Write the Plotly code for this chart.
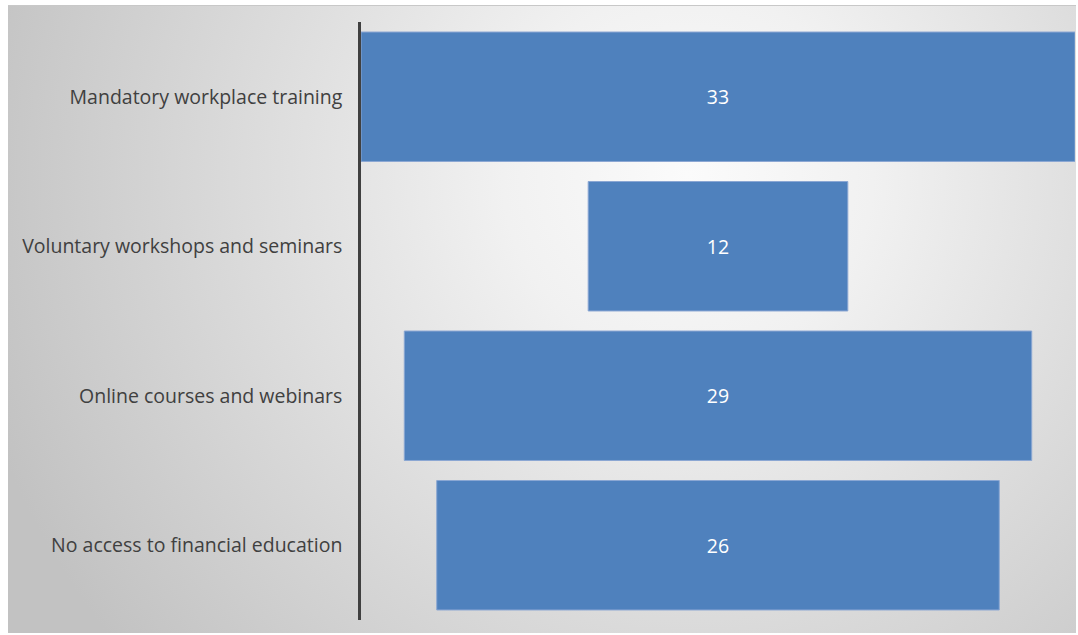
import base64
import plotly.graph_objects as go

# Data
categories = [
    "Mandatory workplace training",
    "Voluntary workshops and seminars",
    "Online courses and webinars",
    "No access to financial education",
]
values = [33, 12, 29, 26]

W, H = 1078, 635
# plot area in pixels
L, R, T, B = 361, 1075, 22, 620

FONT = "Open Sans, Lato, sans-serif"

# radial-gradient backdrop for the chart area
svg = f"""<svg xmlns='http://www.w3.org/2000/svg' width='1068' height='628' viewBox='0 0 1068 628' preserveAspectRatio='none'>
<defs><radialGradient id='g' gradientUnits='userSpaceOnUse' cx='680' cy='170' r='740'>
<stop offset='0' stop-color='#fbfbfb'/>
<stop offset='0.25' stop-color='#f1f1f1'/>
<stop offset='1' stop-color='#c2c2c2'/>
</radialGradient></defs>
<rect width='1068' height='628' fill='url(#g)'/></svg>"""
bg_src = "data:image/svg+xml;base64," + base64.b64encode(svg.encode()).decode()

pw, ph = R - L, B - T

def px_x(x):
    return (x - L) / pw

def px_y(y):
    return (B - y) / ph

fig = go.Figure(
    go.Funnel(
        y=categories,
        x=values,
        textinfo="value",
        textposition="inside",
        insidetextanchor="middle",
        textfont=dict(family=FONT, size=19.5, color="white"),
        marker=dict(color="#4F81BD", line=dict(color="#8BA7D3", width=1)),
        connector=dict(visible=False),
        hoverinfo="y+x",
    )
)

fig.update_layout(
    width=W,
    height=H,
    margin=dict(l=L, r=W - R, t=T, b=H - B),
    paper_bgcolor="white",
    plot_bgcolor="rgba(0,0,0,0)",
    funnelgap=0.134,
    showlegend=False,
    font=dict(family=FONT, size=19.5, color="#404040"),
    xaxis=dict(visible=False, range=[-max(values) / 2, max(values) / 2]),
    yaxis=dict(
        showline=True,
        linecolor="#404040",
        linewidth=2.5,
        ticks="outside",
        ticklen=12,
        tickcolor="rgba(0,0,0,0)",
        tickfont=dict(family=FONT, size=19.5, color="#404040"),
        showgrid=False,
    ),
    images=[
        dict(
            source=bg_src,
            xref="paper",
            yref="paper",
            x=px_x(8),
            y=px_y(5),
            sizex=(1076 - 8) / pw,
            sizey=(633 - 5) / ph,
            xanchor="left",
            yanchor="top",
            sizing="stretch",
            layer="below",
        )
    ],
    shapes=[
        dict(
            type="line",
            xref="paper",
            yref="paper",
            x0=px_x(8),
            x1=px_x(1076),
            y0=px_y(5.5),
            y1=px_y(5.5),
            line=dict(color="#c8c8c8", width=1),
            layer="below",
        )
    ],
)

fig.write_html("out.html")
